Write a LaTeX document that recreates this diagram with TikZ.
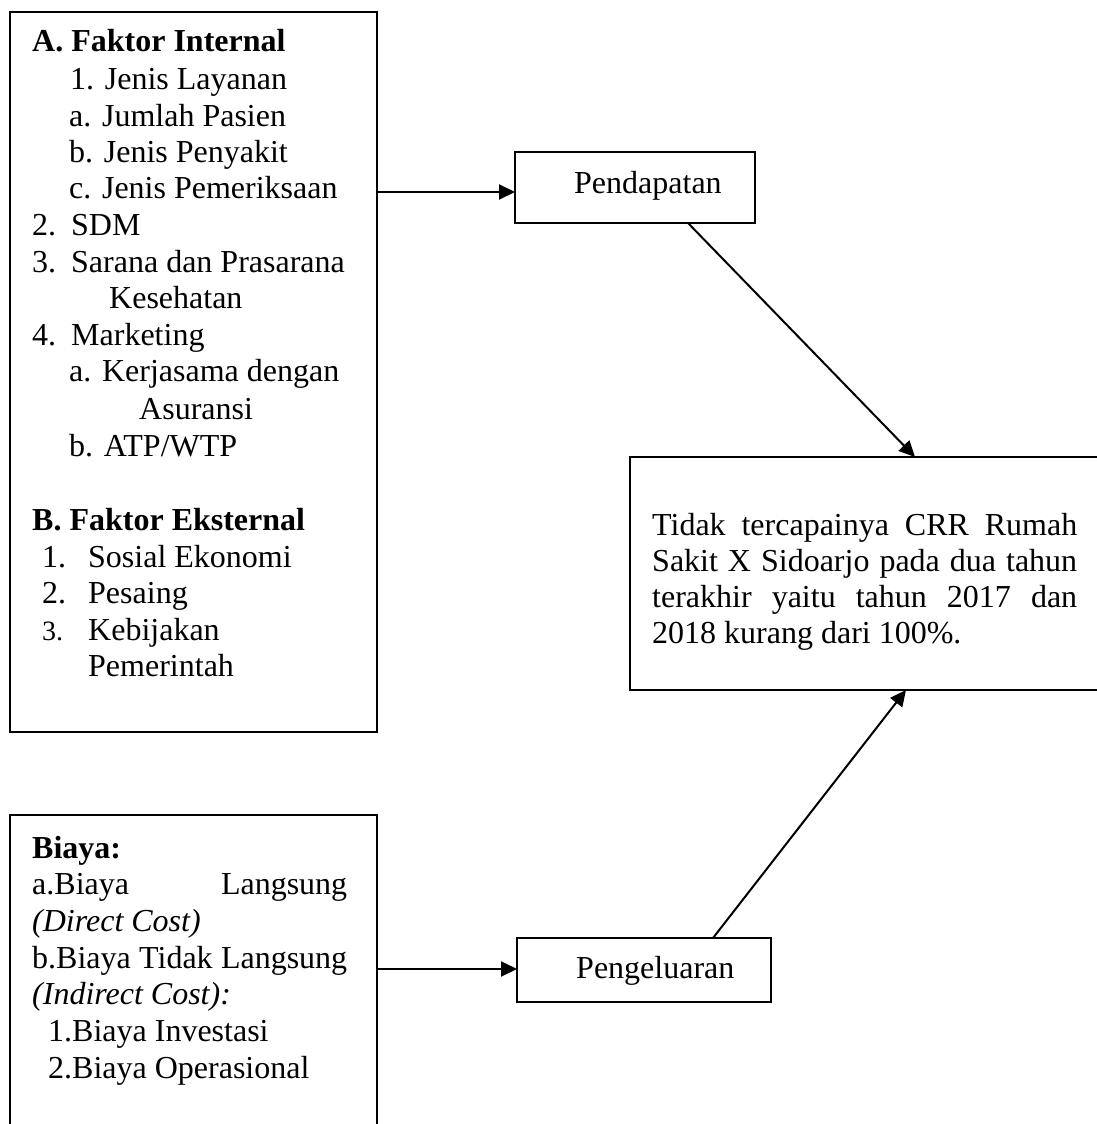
\documentclass[tikz,border=0pt]{standalone}
\usepackage{fontspec}
\setmainfont{Liberation Serif}
\usetikzlibrary{arrows.meta,calc}
\begin{document}
\begin{tikzpicture}[x=1pt,y=-1pt,
  box/.style={draw=black, line width=2pt, rectangle, anchor=north west, inner sep=0pt, outer sep=0pt},
  txt/.style={anchor=base west, inner sep=0pt, font=\fontsize{32}{36.6}\selectfont},
  arr/.style={line width=2pt, -{Triangle[length=16pt,width=15pt]}}]
\useasboundingbox (0,0) rectangle (1096,1124);
% boxes
\node[box, minimum width=367pt, minimum height=720pt] (fa) at (10,12) {};
\node[box, minimum width=240pt, minimum height=71pt] (pend) at (515,152) {};
\node[box, minimum width=480pt, minimum height=233pt] (crr) at (630,457) {};
\node[box, minimum width=367pt, minimum height=320pt] (by) at (10,815) {};
\node[box, minimum width=254pt, minimum height=64pt] (peng) at (517,938) {};
% box A text
\node[txt] (t1) at (32,52) {\textbf{A. Faktor Internal}};
\node[txt] (t2) at (70,89) {1. Jenis Layanan};
\node[txt] (t3) at (69,126) {a. Jumlah Pasien};
\node[txt] (t4) at (69,162) {b. Jenis Penyakit};
\node[txt] (t5) at (69,198) {c. Jenis Pemeriksaan};
\node[txt] (t6) at (32,235) {2.};
\node[txt] (t6b) at (71,235) {SDM};
\node[txt] (t7) at (32,272) {3.};
\node[txt] (t7b) at (71,272) {Sarana dan Prasarana};
\node[txt] (t8) at (109,308) {Kesehatan};
\node[txt] (t9) at (32,345) {4.};
\node[txt] (t9b) at (71,345) {Marketing};
\node[txt] (t10) at (69,381) {a. Kerjasama dengan};
\node[txt] (t11) at (139,419) {Asuransi};
\node[txt] (t12) at (69,456) {b. ATP/WTP};
\node[txt] (t13) at (32,530) {\textbf{B. Faktor Eksternal}};
\node[txt] (t14) at (42,567) {1.};
\node[txt] (t14b) at (88,567) {Sosial Ekonomi};
\node[txt] (t15) at (42,603) {2.};
\node[txt] (t15b) at (88,603) {Pesaing};
\node[txt] (t16) at (42,640) {\fontsize{28}{34}\selectfont 3.};
\node[txt] (t16b) at (88,640) {Kebijakan};
\node[txt] (t17) at (88,676) {Pemerintah};
% Pendapatan / Pengeluaran
\node[txt] (tp) at (574,193) {Pendapatan};
\node[txt] (tg) at (576,978) {Pengeluaran};
% CRR text
\node[txt] (c1) at (652,535) {\makebox[425pt][l]{Tidak\hfill tercapainya\hfill CRR\hfill Rumah}};
\node[txt] (c2) at (652,571) {\makebox[425pt][l]{Sakit\hfill X\hfill Sidoarjo\hfill pada\hfill dua\hfill tahun}};
\node[txt] (c3) at (652,607) {\makebox[425pt][l]{terakhir\hfill yaitu\hfill tahun\hfill 2017\hfill dan}};
\node[txt] (c4) at (652,643) {2018 kurang dari 100\%.};
% Biaya text
\node[txt] (b1) at (32,858) {\textbf{Biaya:}};
\node[txt] (b2) at (32,894) {\makebox[315pt][l]{a.Biaya\hfill Langsung}};
\node[txt] (b3) at (32,931) {\textit{(Direct Cost)}};
\node[txt] (b4) at (32,968) {\makebox[315pt][l]{b.Biaya\hfill Tidak\hfill Langsung}};
\node[txt] (b5) at (32,1004) {\textit{(Indirect Cost):}};
\node[txt] (b6) at (48,1041) {1.Biaya Investasi};
\node[txt] (b7) at (48,1078) {2.Biaya Operasional};
% connectors
\draw[arr] (fa.east |- 0,192) -- (pend.west |- 0,192);
\draw[arr] (by.east |- 0,969) -- (peng.west |- 0,969);
\draw[arr] ($(pend.south west)+(173,0)$) -- ($(crr.north west)+(285,0)$);
\draw[arr] ($(peng.north west)+(196,0)$) -- ($(crr.south west)+(276,0)$);
\end{tikzpicture}
\end{document}
